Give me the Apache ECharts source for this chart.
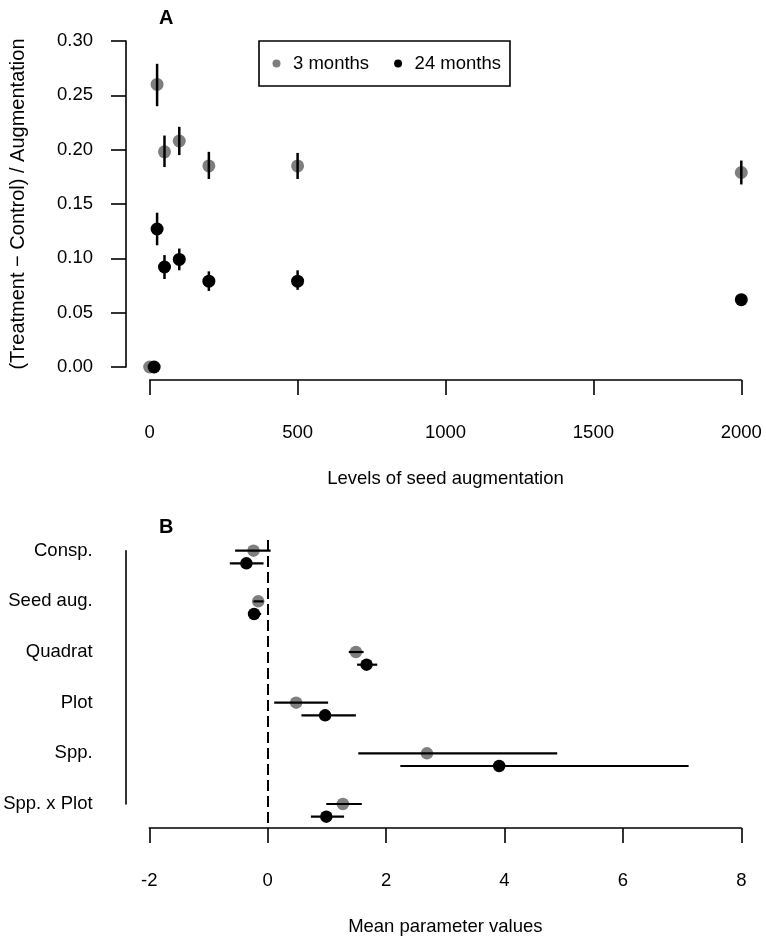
<!DOCTYPE html>
<html>
<head>
<meta charset="utf-8">
<script src="https://cdn.jsdelivr.net/npm/echarts@6/dist/echarts.min.js"></script>
<style>
html,body{margin:0;padding:0;background:#fff;}
#chart{width:766px;height:942px;}
</style>
</head>
<body>
<div id="chart"></div>
<script>
// ---- Panel A data ----
const xTicksA = [0, 500, 1000, 1500, 2000];
const aug3 = [0, 25, 50, 100, 200, 500, 2000];
const mean3 = [0.000, 0.260, 0.198, 0.208, 0.185, 0.185, 0.179];
const lo3 = [0.000, 0.240, 0.184, 0.195, 0.173, 0.173, 0.168];
const hi3 = [0.000, 0.279, 0.213, 0.221, 0.198, 0.197, 0.190];
const aug24 = [15, 25, 50, 100, 200, 500, 2000];
const mean24 = [0.000, 0.127, 0.092, 0.099, 0.079, 0.079, 0.062];
const lo24 = [0.000, 0.112, 0.081, 0.089, 0.070, 0.071, 0.058];
const hi24 = [0.000, 0.142, 0.103, 0.109, 0.088, 0.089, 0.066];

// ---- Panel B data ----
const params = ['Consp.', 'Seed aug.', 'Quadrat', 'Plot', 'Spp.', 'Spp. x Plot'];
const xTicksB = [-2, 0, 2, 4, 6, 8];
const est3 = [-0.24, -0.16, 1.49, 0.48, 2.69, 1.27];
const lo3B = [-0.55, -0.24, 1.37, 0.11, 1.53, 0.99];
const hi3B = [0.05, -0.07, 1.62, 1.02, 4.89, 1.59];
const est24 = [-0.36, -0.23, 1.67, 0.97, 3.91, 0.99];
const lo24B = [-0.64, -0.33, 1.51, 0.57, 2.24, 0.73];
const hi24B = [-0.07, -0.11, 1.85, 1.49, 7.11, 1.29];

const FONT = "'Liberation Sans', Arial, Helvetica, sans-serif";
const GRAY = '#7f7f7f';
const FS = 18.5;

const chart = echarts.init(document.getElementById('chart'), null, {renderer: 'canvas'});

function vBar(params, api) {
  const x = api.value(0), lo = api.value(1), hi = api.value(2);
  const p1 = api.coord([x, lo]), p2 = api.coord([x, hi]);
  return {type: 'line', shape: {x1: p1[0], y1: p1[1], x2: p2[0], y2: p2[1]},
          style: {stroke: '#000', lineWidth: 2.5}};
}
function hBar(params, api) {
  const lo = api.value(0), hi = api.value(1), y = api.value(2);
  const p1 = api.coord([lo, y]), p2 = api.coord([hi, y]);
  return {type: 'line', shape: {x1: p1[0], y1: p1[1], x2: p2[0], y2: p2[1]},
          style: {stroke: '#000', lineWidth: 2.2}};
}
// vertical reference line at x = 0, drawn as dashes between two data-space ends
function dashLine(params, api) {
  const x = api.value(0), y1 = api.value(1), y2 = api.value(2);
  const p1 = api.coord([x, y1]), p2 = api.coord([x, y2]);
  const px = Math.round(p1[0]);
  const top = Math.min(p1[1], p2[1]), bot = Math.max(p1[1], p2[1]);
  const dash = 11, gap = 5;
  const children = [];
  for (let s = top; s < bot; s += dash + gap) {
    children.push({type: 'line', shape: {x1: px, y1: s, x2: px, y2: Math.min(s + dash, bot)},
                   style: {stroke: '#000', lineWidth: 2}});
  }
  return {type: 'group', children: children};
}

const axisLine = {show: true, onZero: false, lineStyle: {color: '#000', width: 1.6}};
const axisTick = {show: true, length: 15, lineStyle: {color: '#000', width: 1.6}};
const plainNum = v => String(v);

const barsA = [];
aug3.forEach((x, i) => { if (hi3[i] > lo3[i]) barsA.push([x, lo3[i], hi3[i]]); });
aug24.forEach((x, i) => { if (hi24[i] > lo24[i]) barsA.push([x, lo24[i], hi24[i]]); });

const barsB = [];
params.forEach((p, i) => {
  barsB.push([lo3B[i], hi3B[i], i + 1]);
  barsB.push([lo24B[i], hi24B[i], i + 1.25]);
});

const option = {
  animation: false,
  backgroundColor: '#fff',
  textStyle: {fontFamily: FONT},
  title: [
    {text: 'A', left: 154, top: 3, textStyle: {fontFamily: FONT, fontSize: 20, fontWeight: 'bold', color: '#000'}},
    {text: 'B', left: 154, top: 512, textStyle: {fontFamily: FONT, fontSize: 20, fontWeight: 'bold', color: '#000'}}
  ],
  legend: {
    data: [
      {name: '3 months', icon: 'circle', itemStyle: {color: GRAY}},
      {name: '24 months', icon: 'circle', itemStyle: {color: '#000'}}
    ],
    left: 259, top: 41,
    orient: 'horizontal',
    itemWidth: 23, itemHeight: 8, itemGap: 25,
    borderColor: '#000', borderWidth: 1.6, borderRadius: 0,
    padding: [12, 9, 12, 13.5],
    selectedMode: false,
    textStyle: {fontFamily: FONT, fontSize: FS, color: '#000', lineHeight: 21}
  },
  grid: [
    {left: 149.3, width: 592, top: 41, height: 326},
    {left: 149.3, width: 592, top: 550.7, height: 253.3}
  ],
  xAxis: [
    {gridIndex: 0, type: 'value', min: xTicksA[0], max: xTicksA[xTicksA.length - 1], interval: 500,
     offset: 13, axisLine: axisLine, axisTick: axisTick, splitLine: {show: false},
     axisLabel: {color: '#000', fontSize: FS, fontFamily: FONT, margin: 43, formatter: plainNum},
     name: 'Levels of seed augmentation', nameLocation: 'middle', nameGap: 89,
     nameTextStyle: {color: '#000', fontSize: FS, fontFamily: FONT}},
    {gridIndex: 1, type: 'value', min: xTicksB[0], max: xTicksB[xTicksB.length - 1], interval: 2,
     offset: 24, axisLine: axisLine, axisTick: axisTick, splitLine: {show: false},
     axisLabel: {color: '#000', fontSize: FS, fontFamily: FONT, margin: 43, formatter: plainNum},
     name: 'Mean parameter values', nameLocation: 'middle', nameGap: 89,
     nameTextStyle: {color: '#000', fontSize: FS, fontFamily: FONT}}
  ],
  yAxis: [
    {gridIndex: 0, type: 'value', min: 0, max: 0.3, interval: 0.05,
     offset: 23.7, axisLine: axisLine, axisTick: axisTick, splitLine: {show: false},
     axisLabel: {color: '#000', fontSize: FS, fontFamily: FONT, margin: 33,
                 formatter: v => v.toFixed(2)},
     name: '(Treatment \u2212 Control) / Augmentation', nameLocation: 'middle', nameGap: 98,
     nameRotate: 90,
     nameTextStyle: {color: '#000', fontSize: 20, fontFamily: FONT}},
    {gridIndex: 1, type: 'value', min: 1, max: 6, interval: 1, inverse: true,
     offset: 23.7, axisLine: axisLine, axisTick: {show: false}, splitLine: {show: false},
     axisLabel: {color: '#000', fontSize: FS, fontFamily: FONT, margin: 33,
                 formatter: v => params[Math.round(v) - 1] || ''}}
  ],
  series: [
    {name: '3 months', type: 'scatter', xAxisIndex: 0, yAxisIndex: 0, clip: false,
     symbolSize: 13, itemStyle: {color: GRAY, opacity: 1}, z: 2,
     data: aug3.map((x, i) => [x, mean3[i]])},
    {name: '24 months', type: 'scatter', xAxisIndex: 0, yAxisIndex: 0, clip: false,
     symbolSize: 13, itemStyle: {color: '#000', opacity: 1}, z: 2,
     data: aug24.map((x, i) => [x, mean24[i]])},
    {type: 'custom', xAxisIndex: 0, yAxisIndex: 0, clip: false, z: 3,
     renderItem: vBar, encode: {x: 0, y: [1, 2]}, data: barsA},
    {type: 'custom', xAxisIndex: 1, yAxisIndex: 1, clip: false, z: 1,
     renderItem: dashLine, encode: {x: 0, y: [1, 2]}, data: [[0, 0.79, 6.46]]},
    {name: '3 months', type: 'scatter', xAxisIndex: 1, yAxisIndex: 1, clip: false,
     symbolSize: 12.5, itemStyle: {color: GRAY, opacity: 1}, z: 2,
     data: params.map((p, i) => [est3[i], i + 1])},
    {name: '24 months', type: 'scatter', xAxisIndex: 1, yAxisIndex: 1, clip: false,
     symbolSize: 12.5, itemStyle: {color: '#000', opacity: 1}, z: 2,
     data: params.map((p, i) => [est24[i], i + 1.25])},
    {type: 'custom', xAxisIndex: 1, yAxisIndex: 1, clip: false, z: 3,
     renderItem: hBar, encode: {x: [0, 1], y: 2}, data: barsB}
  ]
};
chart.setOption(option);
</script>
</body>
</html>
